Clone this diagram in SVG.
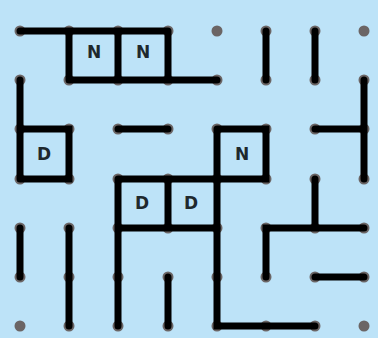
<svg xmlns="http://www.w3.org/2000/svg" width="378" height="338" viewBox="0 0 378 338">
<style>
.e{stroke:#000;stroke-width:7;stroke-linecap:round;fill:none}
.d{fill:#6b6565}
.t{font-family:"DejaVu Sans",sans-serif;font-size:17px;font-weight:bold;fill:#1e282d;text-anchor:middle}
</style>
<defs><circle id="dot" r="5.5" class="d"/></defs>
<rect width="378" height="338" fill="#bde3f8"/>
<g id="dots">
<use href="#dot" x="20" y="31"/><use href="#dot" x="69" y="31"/><use href="#dot" x="118" y="31"/><use href="#dot" x="168" y="31"/><use href="#dot" x="217" y="31"/><use href="#dot" x="266" y="31"/><use href="#dot" x="315" y="31"/><use href="#dot" x="364" y="31"/>
<use href="#dot" x="20" y="80"/><use href="#dot" x="69" y="80"/><use href="#dot" x="118" y="80"/><use href="#dot" x="168" y="80"/><use href="#dot" x="217" y="80"/><use href="#dot" x="266" y="80"/><use href="#dot" x="315" y="80"/><use href="#dot" x="364" y="80"/>
<use href="#dot" x="20" y="129"/><use href="#dot" x="69" y="129"/><use href="#dot" x="118" y="129"/><use href="#dot" x="168" y="129"/><use href="#dot" x="217" y="129"/><use href="#dot" x="266" y="129"/><use href="#dot" x="315" y="129"/><use href="#dot" x="364" y="129"/>
<use href="#dot" x="20" y="179"/><use href="#dot" x="69" y="179"/><use href="#dot" x="118" y="179"/><use href="#dot" x="168" y="179"/><use href="#dot" x="217" y="179"/><use href="#dot" x="266" y="179"/><use href="#dot" x="315" y="179"/><use href="#dot" x="364" y="179"/>
<use href="#dot" x="20" y="228"/><use href="#dot" x="69" y="228"/><use href="#dot" x="118" y="228"/><use href="#dot" x="168" y="228"/><use href="#dot" x="217" y="228"/><use href="#dot" x="266" y="228"/><use href="#dot" x="315" y="228"/><use href="#dot" x="364" y="228"/>
<use href="#dot" x="20" y="277"/><use href="#dot" x="69" y="277"/><use href="#dot" x="118" y="277"/><use href="#dot" x="168" y="277"/><use href="#dot" x="217" y="277"/><use href="#dot" x="266" y="277"/><use href="#dot" x="315" y="277"/><use href="#dot" x="364" y="277"/>
<use href="#dot" x="20" y="326"/><use href="#dot" x="69" y="326"/><use href="#dot" x="118" y="326"/><use href="#dot" x="168" y="326"/><use href="#dot" x="217" y="326"/><use href="#dot" x="266" y="326"/><use href="#dot" x="315" y="326"/><use href="#dot" x="364" y="326"/>
</g>
<g id="connectors" class="e">
<path d="M20 31H168M69 31V80M118 31V80M168 31V80M69 80H217"/>
<path d="M266 31V80M315 31V80"/>
<path d="M20 80V179M20 129H69V179H20"/>
<path d="M118 129H168"/>
<path d="M217 129H266V179H217M217 129V326H315"/>
<path d="M364 80V179M315 129H364"/>
<path d="M315 179V228M266 277V228H364M315 277H364"/>
<path d="M118 179H217M118 179V326M168 179V228M118 228H217"/>
<path d="M20 228V277M69 228V326M168 277V326"/>
</g>
<g id="n1"><text class="t" x="94" y="58">N</text></g>
<g id="n2"><text class="t" x="143" y="58">N</text></g>
<g id="n3"><text class="t" x="242" y="160">N</text></g>
<g id="d1"><text class="t" x="44" y="160">D</text></g>
<g id="d2"><text class="t" x="142" y="209">D</text></g>
<g id="d3"><text class="t" x="191" y="209">D</text></g>
</svg>
